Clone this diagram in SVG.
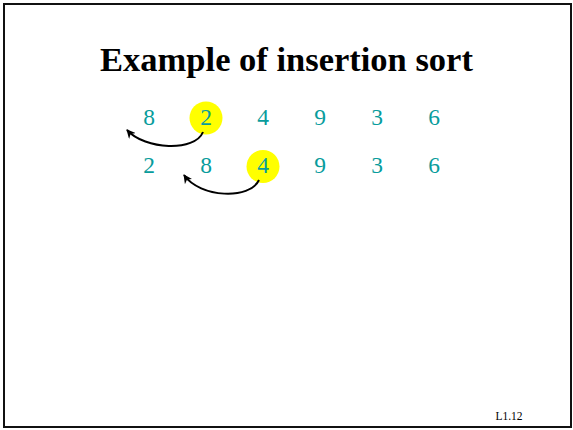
<svg xmlns="http://www.w3.org/2000/svg" width="573" height="430" viewBox="0 0 573 430">
<defs>
<style>
.num{font-family:"Liberation Serif",serif;font-size:23.5px;fill:#089c9c;text-anchor:middle}
.hl{fill:#ffff00}
.arc{fill:none;stroke:#000;stroke-width:2}
</style>
<marker id="ah" viewBox="0 0 10 10" refX="9" refY="5" markerWidth="4.5" markerHeight="4.5" orient="auto" markerUnits="strokeWidth">
<path d="M0,0 L10,5 L0,10 L3,5 Z" fill="#000"/>
</marker>
</defs>
<rect x="0" y="0" width="573" height="430" fill="#fff"/>
<rect x="4" y="4" width="567" height="423" fill="#fff" stroke="#111" stroke-width="2"/>
<text x="286.5" y="71" font-family="Liberation Serif,serif" font-weight="bold" font-size="34.5" text-anchor="middle" fill="#000">Example of insertion sort</text>
<g id="row1">
<circle class="hl" cx="206" cy="118" r="16.5"/>
<text class="num" x="149" y="125">8</text>
<text class="num" x="206" y="125">2</text>
<text class="num" x="263" y="125">4</text>
<text class="num" x="320" y="125">9</text>
<text class="num" x="377" y="125">3</text>
<text class="num" x="434" y="125">6</text>
</g>
<g id="row2">
<circle class="hl" cx="263" cy="166.5" r="16.5"/>
<text class="num" x="149" y="173">2</text>
<text class="num" x="206" y="173">8</text>
<text class="num" x="263" y="173">4</text>
<text class="num" x="320" y="173">9</text>
<text class="num" x="377" y="173">3</text>
<text class="num" x="434" y="173">6</text>
</g>
<g id="connectors">
<path class="arc" d="M203,132 C195,152 145,150 127,130" marker-end="url(#ah)"/>
<path class="arc" d="M259,180 C250,200 200,198 184,175" marker-end="url(#ah)"/>
</g>
<text x="509" y="420" font-family="Liberation Serif,serif" font-size="11.5" text-anchor="middle" fill="#000">L1.12</text>
</svg>
